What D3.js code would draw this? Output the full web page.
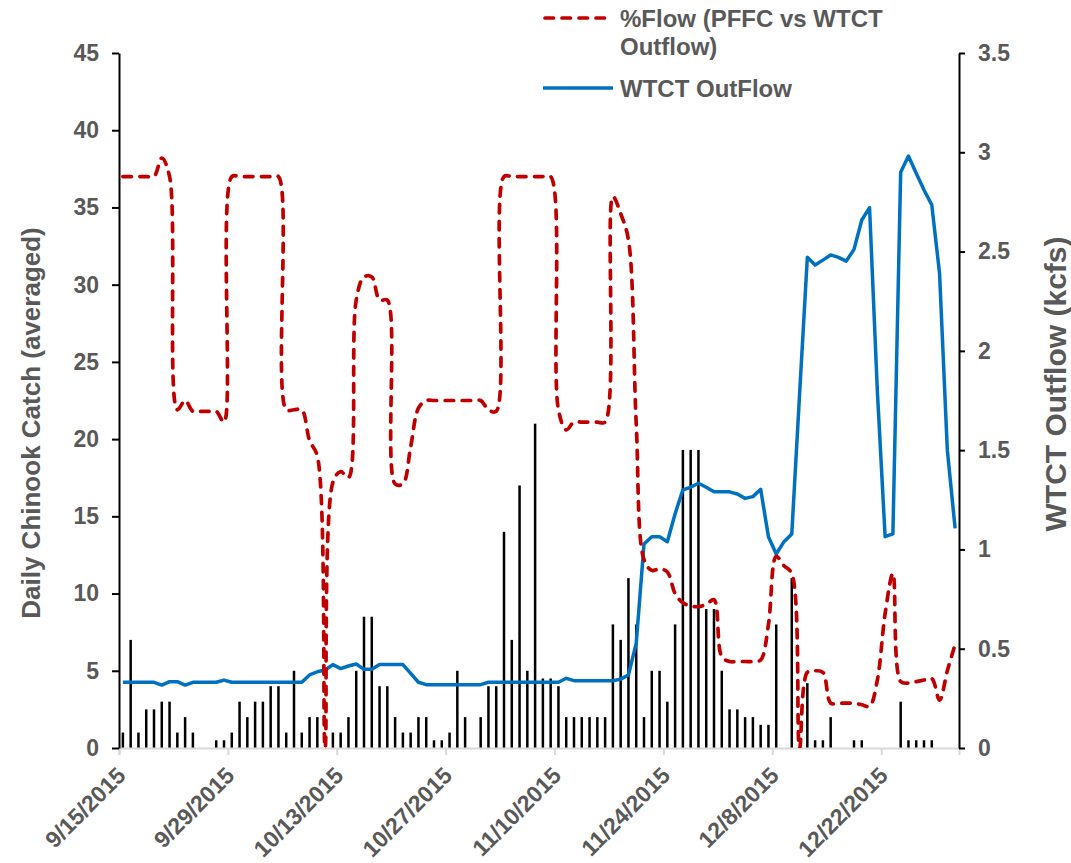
<!DOCTYPE html>
<html><head><meta charset="utf-8">
<script src="https://cdn.jsdelivr.net/npm/d3@7"></script>
<style>
html,body{margin:0;padding:0;background:#fff;}
text{font-family:"Liberation Sans",Arial,sans-serif;font-weight:bold;fill:#595959;}
</style></head>
<body>
<svg id="chart" width="1071" height="863"></svg>
<script>
// ---- data ----
const startDate = "2015-09-15";
const endDate = "2016-01-01";
const tickLabels = ["9/15/2015","9/29/2015","10/13/2015","10/27/2015","11/10/2015","11/24/2015","12/8/2015","12/22/2015"];
const leftTicks = [0,5,10,15,20,25,30,35,40,45];
const rightTicks = [0,0.5,1,1.5,2,2.5,3,3.5];
const seriesNames = ["%Flow (PFFC vs WTCT Outflow)", "WTCT OutFlow"];
const axisTitles = ["Daily Chinook Catch (averaged)", "WTCT Outflow (kcfs)"];

const dailyCatch = [1,7,1,2.5,2.5,3,3,1,2,1, 0,0,0.5,0.5,1,3,2,3,3,4, 4,1,5,1,2,2,0,1,1,2,
  5,8.5,8.5,4,4,2,1,1,2,2, 0.5,0.5,1,5,2,0,2,4,4,14, 7,17,5,21,4.5,4.5,4,2,2,2,
  2,2,2,8,7,11,8,2,5,5, 3,8,19.3,19.3,19.3,9,9,5,2.5,2.5, 2,2,1.5,1.5,8,0,11,0,4.2,0.5,
  0.5,2,0,0,0.5,0.5,0,0,0,0, 3,0.5,0.5,0.5,0.5,0,0,0];

const pctFlow = [37,37,37,37,37,38.2,37,21.9,22.5,21.8, 21.8,21.8,21.8,21.1,37,37,37,37,37,37,
  37,21.9,21.9,21.9,19.9,18.9,0,17.2,17.9,17.5, 29,30.5,30.5,29,29,17.1,17.1,19.5,22,22.5,
  22.5,22.5,22.5,22.5,22.5,22.5,22.5,21.9,21.8,37, 37,37,37,37,37,37,21.9,20.6,21.1,21.1,
  21.1,21.1,21.1,35.7,34.6,32.9,21,12.2,11.5,11.6, 11.4,10,9.4,9.2,9.15,9.3,9.6,5.9,5.6,5.6,
  5.6,5.6,5.7,8,12.4,11.8,11.3,0,4.9,5.0, 4.9,2.9,2.9,2.9,2.9,2.8,2.7,4.4,8.7,11.3,
  4.3,4.2,4.3,4.4,4.5,3.1,5,6.7];

const outflow = [0.331,0.331,0.331,0.331,0.331,0.317,0.334,0.334,0.317,0.331, 0.331,0.331,0.331,0.342,0.331,0.331,0.331,0.331,0.331,0.331,
  0.331,0.331,0.331,0.331,0.368,0.384,0.393,0.42,0.40,0.413, 0.423,0.396,0.396,0.42,0.42,0.42,0.42,0.376,0.331,0.319,
  0.319,0.319,0.319,0.319,0.319,0.319,0.319,0.331,0.331,0.331, 0.331,0.331,0.331,0.331,0.331,0.331,0.331,0.351,0.339,0.339,
  0.339,0.339,0.339,0.339,0.347,0.368,0.527,1.027,1.064,1.064, 1.039,1.18,1.30,1.313,1.333,1.313,1.29,1.29,1.29,1.279,
  1.257,1.266,1.303,1.064,0.977,1.039,1.078,1.78,2.471,2.432, 2.457,2.483,2.471,2.452,2.511,2.659,2.721,1.8,1.064,1.078,
  2.899,2.981,2.894,2.81,2.735,2.39,1.5,1.106];

// ---- chart ----
const svg = d3.select("#chart");
const M = {left:119, right:959, top:53, bottom:748};
const parse = d3.utcParse("%Y-%m-%d");
const days = d3.utcDay.range(parse(startDate), parse(endDate));
const x = d3.scaleUtc().domain([parse(startDate), parse(endDate)]).range([M.left, M.right]);
const half = (x(days[1]) - x(days[0])) / 2;
const cx = i => x(days[i]) + half;
const yL = d3.scaleLinear().domain([0,45]).range([M.bottom, M.top]);
const yR = d3.scaleLinear().domain([0,3.5]).range([M.bottom, M.top]);

svg.append("defs").append("clipPath").attr("id","clip")
  .append("rect").attr("x",M.left).attr("y",M.top-10).attr("width",M.right-M.left).attr("height",M.bottom-M.top+10);

// bars
svg.append("g").selectAll("rect").data(dailyCatch).join("rect")
  .attr("x",(d,i)=>cx(i)-1.25).attr("width",2.5)
  .attr("y",d=>yL(d)).attr("height",d=>yL(0)-yL(d))
  .attr("fill","#000");

// x axis
const tickDates = tickLabels.map(s=>d3.utcParse("%m/%d/%Y")(s));
const xAxis = svg.append("g").attr("transform",`translate(0,${M.bottom})`)
  .call(d3.axisBottom(x).tickValues(tickDates).tickSize(7).tickFormat(""));
xAxis.select(".domain").attr("stroke","#d9d9d9").attr("stroke-width",2);
xAxis.selectAll(".tick line").attr("stroke","#d9d9d9").attr("stroke-width",2);
svg.append("g").selectAll("text").data(tickDates).join("text")
  .attr("transform",(d,i)=>`translate(${x(d)+8},777) rotate(-45)`)
  .attr("text-anchor","end").style("font-size","23px")
  .text((d,i)=>tickLabels[i]);

// lines
const lineRed = d3.line().x((d,i)=>cx(i)).y(d=>yL(d)).curve(d3.curveCatmullRom.alpha(0.5));
const lineBlue = d3.line().x((d,i)=>cx(i)).y(d=>yR(d));
svg.append("path").datum(outflow).attr("d",lineBlue)
  .attr("fill","none").attr("stroke","#0070C0").attr("stroke-width",3.5).attr("stroke-linejoin","round");
svg.append("path").datum(pctFlow).attr("d",lineRed).attr("clip-path","url(#clip)")
  .attr("fill","none").attr("stroke","#C00000").attr("stroke-width",3.7)
  .attr("stroke-dasharray","8.5,8.5").attr("stroke-linecap","round");

// left axis
const gL = svg.append("g").attr("transform",`translate(${M.left},0)`)
  .call(d3.axisLeft(yL).tickValues(leftTicks).tickSize(7).tickPadding(13).tickSizeOuter(0));
gL.select(".domain").attr("stroke","#000").attr("stroke-width",2);
gL.selectAll(".tick line").attr("stroke","#000").attr("stroke-width",2);
gL.selectAll(".tick text").style("font-size","23px").attr("fill","#595959")
  .style("font-family",'"Liberation Sans",Arial,sans-serif').style("font-weight","bold");

// right axis
const gR = svg.append("g").attr("transform",`translate(${M.right},0)`)
  .call(d3.axisRight(yR).tickValues(rightTicks).tickSize(6).tickPadding(13).tickSizeOuter(0).tickFormat(d3.format("~g")));
gR.select(".domain").attr("stroke","#000").attr("stroke-width",2);
gR.selectAll(".tick line").attr("stroke","#000").attr("stroke-width",2);
gR.selectAll(".tick text").style("font-size","23px").attr("fill","#595959")
  .style("font-family",'"Liberation Sans",Arial,sans-serif').style("font-weight","bold");

// axis titles
svg.append("text").attr("transform",`translate(40,423) rotate(-90)`)
  .attr("text-anchor","middle").style("font-size","26px").text(axisTitles[0]);
svg.append("text").attr("transform",`translate(1066,384) rotate(-90)`)
  .attr("text-anchor","middle").style("font-size","30px").text(axisTitles[1]);

// legend
const lg = svg.append("g");
lg.append("line").attr("x1",545).attr("x2",611).attr("y1",18).attr("y2",18)
  .attr("stroke","#C00000").attr("stroke-width",3.7).attr("stroke-dasharray","8.5,8.5").attr("stroke-linecap","round");
lg.append("text").attr("x",620).attr("y",27).style("font-size","24px").text("%Flow (PFFC vs WTCT");
lg.append("text").attr("x",620).attr("y",55).style("font-size","24px").text("Outflow)");
lg.append("line").attr("x1",543).attr("x2",613).attr("y1",88).attr("y2",88)
  .attr("stroke","#0070C0").attr("stroke-width",3.5);
lg.append("text").attr("x",620).attr("y",97).style("font-size","24px").text(seriesNames[1]);
</script>
</body></html>
